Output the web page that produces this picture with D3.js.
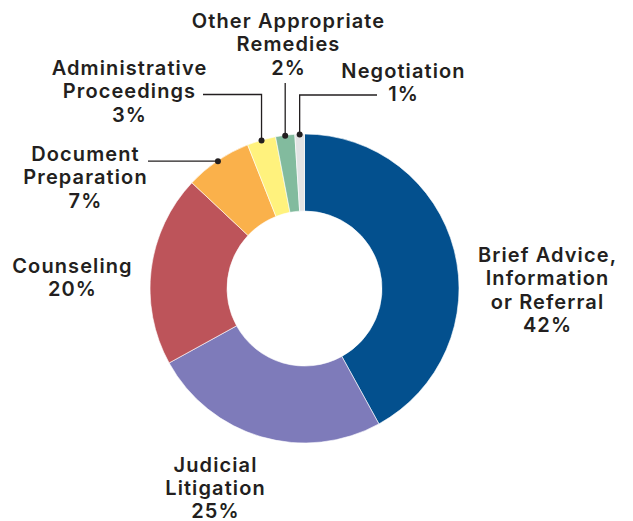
<!DOCTYPE html>
<html>
<head>
<meta charset="utf-8">
<script src="https://cdn.jsdelivr.net/npm/d3@7"></script>
<style>
  html, body { margin: 0; padding: 0; background: #fff; }
  svg { display: block; }
  .lbl { font-family: Inter, "Open Sans", sans-serif; font-weight: 600; fill: #231f20; letter-spacing: 1.1px; }
</style>
</head>
<body>
<div id="chart"></div>
<script>
// ── Data ──────────────────────────────────────────────────────────────────
var categories = [
  'Brief Advice, Information or Referral',
  'Judicial Litigation',
  'Counseling',
  'Document Preparation',
  'Administrative Proceedings',
  'Other Appropriate Remedies',
  'Negotiation'
];
var shares = [42, 25, 20, 7, 3, 2, 1];
var colors = ['#03508e', '#7e7bba', '#bd545a', '#fab14b', '#fff27d', '#82bb9e', '#e2e3e4'];

// label text lines per slice (last line is the percentage)
var labelLines = [
  ['Brief Advice,', 'Information', 'or Referral'],
  ['Judicial', 'Litigation'],
  ['Counseling'],
  ['Document', 'Preparation'],
  ['Administrative', 'Proceedings'],
  ['Other Appropriate', 'Remedies'],
  ['Negotiation']
];

// ── Layout ────────────────────────────────────────────────────────────────
var width = 633, height = 521;
var cx = 304.5, cy = 288.5;
var outerR = 154.5, innerR = 77.5;
var lineH = 23.4;

// label anchor (centre x, first baseline y)
var labelPos = [
  { x: 547, y: 262 },
  { x: 215, y: 471.5 },
  { x: 72,  y: 273 },
  { x: 85,  y: 161 },
  { x: 129, y: 75 },
  { x: 288, y: 28 },
  { x: 403, y: 78 }
];

var svg = d3.select('#chart').append('svg')
  .attr('width', width)
  .attr('height', height);

var pie = d3.pie().sort(null).value(function(d) { return d; });
var arcs = pie(shares);

var arc = d3.arc().innerRadius(innerR).outerRadius(outerR);

var g = svg.append('g').attr('transform', 'translate(' + cx + ',' + cy + ')');

g.selectAll('path')
  .data(arcs)
  .join('path')
  .attr('d', arc)
  .attr('fill', function(d, i) { return colors[i]; })
  .attr('stroke', '#fff')
  .attr('stroke-width', 0.6);

// ── Leader lines for the small slices ─────────────────────────────────────
function edgePoint(d) {
  var a = (d.startAngle + d.endAngle) / 2;
  return [cx + Math.sin(a) * (outerR - 0.5), cy - Math.cos(a) * (outerR - 0.5)];
}

// bend points for leaders (index -> path after the dot)
var leaders = [
  { i: 3, path: function(p) { return [p, [148, p[1]]]; } },
  { i: 4, path: function(p) { return [p, [p[0], 94.5], [203, 94.5]]; } },
  { i: 5, path: function(p) { return [p, [p[0], 83]]; } },
  { i: 6, path: function(p) { return [p, [p[0], 95], [377, 95]]; } }
];

var lg = svg.append('g');
leaders.forEach(function(l) {
  var p = edgePoint(arcs[l.i]);
  lg.append('path')
    .attr('d', d3.line()(l.path(p)))
    .attr('fill', 'none')
    .attr('stroke', '#231f20')
    .attr('stroke-width', 1.3);
  lg.append('circle')
    .attr('cx', p[0]).attr('cy', p[1])
    .attr('r', 3)
    .attr('fill', '#231f20');
});

// ── Labels ────────────────────────────────────────────────────────────────
var lab = svg.append('g');
arcs.forEach(function(d, i) {
  var lines = labelLines[i].concat([shares[i] + '%']);
  var t = lab.append('text')
    .attr('class', 'lbl')
    .attr('text-anchor', 'middle')
    .attr('font-size', 20);
  lines.forEach(function(s, k) {
    t.append('tspan')
      .attr('x', labelPos[i].x + 0.5)
      .attr('y', labelPos[i].y + k * lineH)
      .text(s);
  });
});
</script>
</body>
</html>
